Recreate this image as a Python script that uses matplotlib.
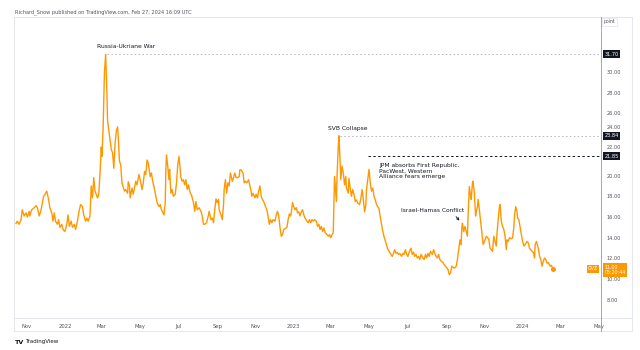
import numpy as np
import pandas as pd
import matplotlib
matplotlib.use("Agg")
import matplotlib.pyplot as plt
import matplotlib.transforms as mtransforms

# CBOE Gold Volatility Index (GVZ), daily closes
start_date = "2021-10-15"
days = [
    0, 2, 5, 8, 10, 13, 16, 18, 21, 22, 25, 29, 32, 34, 37, 40, 44, 46, 49, 52,
    54, 57, 59, 61, 63, 66, 68, 70, 73, 75, 78, 81, 83, 85, 88, 90, 93, 95, 98, 100,
    103, 106, 108, 111, 113, 115, 118, 120, 122, 124, 126, 130, 132, 134, 136, 137, 139, 141, 143, 145,
    146, 149, 152, 154, 156, 158, 160, 162, 163, 165, 167, 169, 171, 173, 175, 178, 179, 181, 182, 185,
    187, 189, 191, 193, 196, 198, 201, 203, 205, 207, 209, 211, 214, 216, 218, 221, 223, 225, 228, 230,
    232, 236, 238, 239, 240, 242, 244, 245, 247, 249, 251, 254, 256, 258, 260, 263, 265, 267, 269, 271,
    273, 275, 278, 280, 283, 285, 287, 289, 292, 295, 297, 299, 301, 304, 307, 308, 311, 313, 315, 317,
    319, 321, 323, 324, 327, 329, 331, 332, 334, 336, 338, 340, 342, 345, 347, 349, 351, 353, 356, 357,
    359, 362, 364, 366, 368, 371, 373, 375, 376, 378, 381, 383, 385, 387, 389, 391, 393, 395, 398, 400,
    402, 404, 406, 408, 410, 413, 415, 417, 419, 421, 423, 425, 427, 430, 432, 434, 436, 438, 439, 441,
    443, 445, 447, 449, 451, 453, 455, 457, 459, 461, 464, 466, 468, 470, 472, 474, 476, 479, 481, 483,
    485, 487, 489, 491, 493, 496, 498, 500, 502, 504, 506, 508, 509, 511, 512, 514, 515, 517, 518, 520,
    522, 524, 526, 527, 530, 531, 533, 535, 537, 539, 541, 543, 545, 548, 550, 552, 554, 556, 558, 559,
    561, 563, 565, 567, 569, 571, 573, 575, 577, 579, 581, 583, 585, 587, 589, 591, 593, 595, 598, 600,
    602, 604, 606, 608, 610, 612, 615, 617, 619, 621, 623, 625, 627, 630, 632, 634, 636, 638, 640, 642,
    644, 646, 649, 651, 653, 655, 657, 659, 661, 664, 666, 668, 670, 672, 674, 676, 678, 681, 683, 685,
    687, 689, 691, 693, 695, 698, 700, 702, 704, 706, 708, 710, 711, 712, 714, 716, 718, 720, 721, 723,
    725, 726, 728, 729, 731, 733, 734, 736, 737, 739, 741, 743, 745, 748, 750, 752, 754, 756, 758, 760,
    762, 764, 766, 767, 769, 771, 772, 774, 776, 778, 780, 782, 783, 785, 787, 790, 792, 794, 795, 797,
    799, 800, 802, 804, 806, 808, 810, 812, 815, 817, 819, 821, 823, 825, 827, 828, 830, 833, 835, 837,
    839, 841, 843, 845, 847, 849, 852, 854, 856,
]
gvz = [
    15.37, 15.6, 15.3, 15.75, 16.7, 16.1, 16.4, 16.0, 16.55, 16.1, 16.7, 16.9, 17.1, 16.9, 16.1, 16.7, 18.0, 18.16, 18.5, 17.7,
    16.9, 16.4, 15.6, 16.4, 15.6, 15.3, 15.75, 15.0, 15.3, 14.8, 14.6, 15.3, 16.2, 15.1, 15.6, 15.0, 15.3, 14.8, 15.6, 16.4,
    17.2, 17.0, 16.2, 15.6, 15.9, 15.6, 16.1, 19.0, 17.85, 19.8, 18.5, 17.85, 18.2, 20.25, 22.75, 21.85, 24.7, 29.9, 31.7, 28.0,
    25.3, 23.9, 22.5, 22.2, 20.7, 23.1, 24.3, 24.7, 23.8, 21.4, 21.05, 19.3, 18.9, 18.5, 18.65, 18.3, 19.4, 19.0, 17.85, 18.8,
    18.2, 18.8, 19.45, 19.1, 20.1, 19.6, 18.65, 19.3, 20.4, 20.1, 21.5, 21.2, 19.9, 20.25, 19.45, 18.65, 18.0, 17.4, 17.0, 17.2,
    16.7, 16.2, 17.4, 20.6, 22.0, 20.9, 19.6, 20.6, 18.3, 18.65, 18.0, 18.2, 19.3, 21.05, 21.85, 19.8, 19.45, 19.6, 19.1, 19.6,
    18.65, 19.1, 18.3, 18.1, 17.4, 16.55, 17.5, 16.7, 16.9, 16.55, 16.1, 15.3, 15.3, 15.45, 16.2, 16.55, 15.75, 15.9, 15.45, 16.7,
    17.75, 17.4, 17.7, 16.7, 16.2, 15.75, 17.2, 18.65, 19.6, 18.3, 19.3, 19.0, 20.25, 19.45, 19.8, 20.25, 19.8, 19.8, 19.9, 20.55,
    20.55, 20.25, 19.3, 19.45, 19.3, 19.6, 19.0, 18.5, 18.0, 18.3, 17.85, 18.2, 17.85, 18.5, 19.0, 18.0, 17.7, 17.5, 17.0, 16.7,
    16.1, 15.3, 15.75, 15.45, 15.75, 15.6, 16.2, 16.55, 16.1, 15.0, 14.15, 14.3, 14.8, 14.9, 15.0, 15.75, 16.3, 16.1, 16.4, 17.4,
    17.0, 16.7, 16.9, 16.4, 16.5, 16.1, 16.5, 16.7, 16.2, 15.9, 15.6, 15.45, 15.75, 15.45, 15.75, 15.6, 15.75, 15.6, 15.1, 15.3,
    14.8, 15.1, 14.6, 14.95, 14.5, 14.3, 14.15, 14.3, 14.0, 14.3, 14.5, 19.9, 19.1, 17.5, 19.9, 22.8, 23.84, 21.2, 19.6, 20.9,
    20.25, 19.1, 19.9, 18.8, 18.3, 19.75, 18.8, 18.0, 18.65, 18.2, 17.5, 17.65, 17.35, 17.2, 17.8, 18.65, 17.65, 16.5, 17.2, 18.65,
    19.6, 20.6, 19.3, 18.5, 18.8, 18.0, 17.65, 17.2, 17.0, 16.8, 16.0, 15.3, 14.6, 14.1, 13.7, 13.3, 12.9, 12.7, 12.4, 12.2,
    12.5, 12.85, 12.5, 12.6, 12.4, 12.5, 12.2, 12.5, 12.4, 12.85, 12.4, 12.2, 12.6, 13.0, 12.4, 12.6, 12.2, 12.4, 12.05, 12.2,
    11.9, 12.4, 12.05, 11.9, 12.4, 12.05, 12.5, 12.2, 12.7, 12.4, 12.85, 12.5, 12.2, 12.05, 12.4, 11.9, 11.75, 11.6, 11.4, 11.25,
    11.1, 10.95, 10.45, 10.6, 11.25, 11.1, 11.1, 11.25, 11.9, 12.85, 13.8, 13.3, 15.0, 15.4, 14.6, 15.1, 14.6, 14.15, 16.1, 18.95,
    18.0, 17.7, 19.3, 19.45, 18.3, 16.1, 16.55, 17.0, 17.7, 16.7, 15.6, 14.5, 13.35, 13.8, 14.15, 14.0, 13.9, 13.0, 12.85, 12.7,
    14.15, 13.65, 13.2, 14.3, 15.75, 17.0, 17.2, 15.6, 15.1, 14.8, 14.15, 12.85, 13.8, 13.65, 14.0, 13.9, 14.0, 15.0, 16.1, 17.0,
    16.5, 15.9, 15.75, 15.0, 14.3, 13.65, 13.2, 13.35, 13.65, 13.5, 13.0, 12.85, 12.7, 12.6, 12.05, 13.35, 13.65, 13.0, 12.2, 11.9,
    11.25, 11.75, 12.05, 11.9, 11.55, 11.6, 11.25, 11.35, 11.0,
]

month_ticks = ["2021-11-01", "2022-01-01", "2022-03-01", "2022-05-01", "2022-07-01",
               "2022-09-01", "2022-11-01", "2023-01-01", "2023-03-01", "2023-05-01",
               "2023-07-01", "2023-09-01", "2023-11-01", "2024-01-01", "2024-03-01",
               "2024-05-01"]
month_labels = ["Nov", "2022", "Mar", "May", "Jul", "Sep", "Nov", "2023", "Mar",
                "May", "Jul", "Sep", "Nov", "2024", "Mar", "May"]
price_ticks = [8, 10, 12, 14, 16, 18, 20, 22, 24, 26, 28, 30]

# Horizontal reference levels and the dates they are drawn from
level_values = [31.70, 23.84, 21.85]
level_starts = ["2022-03-09", "2023-03-15", "2023-04-30"]
last_value = 11.00
symbol = "GVZ"

W, H = 640, 350
ORANGE = "#ff9800"
FRAME = "#e0e3eb"
TEXT = "#131722"
AXIS_TEXT = "#50535e"

dates = pd.Timestamp(start_date) + pd.to_timedelta(days, unit="D")

fig = plt.figure(figsize=(W / 100, H / 100), dpi=100)
fig.patch.set_facecolor("white")


def fx(px):
    return px / W


def fy(py):
    return 1 - py / H


ax = fig.add_axes([fx(15), fy(318), fx(601) - fx(15), fy(18) - fy(318)])
ax.set_facecolor("white")
for s in ax.spines.values():
    s.set_visible(False)

ax.plot(dates, gvz, color=ORANGE, lw=1.0, solid_joinstyle="round", zorder=3)
ax.plot(dates[-1], gvz[-1], "o", color=ORANGE, ms=2.6, zorder=4)

x0 = pd.Timestamp(start_date) - pd.Timedelta(days=1.6)
x1 = pd.Timestamp(start_date) + pd.Timedelta(days=933)
ax.set_xlim(x0, x1)
ax.set_ylim(6.26, 35.2)

# time axis
ax.set_xticks(pd.to_datetime(month_ticks))
ax.set_xticklabels(month_labels)
ax.tick_params(axis="x", length=0, pad=4, labelsize=3.8, labelcolor=AXIS_TEXT)

# price axis on the right; labels next to a level tag are lifted clear of it
ax.yaxis.tick_right()
ax.set_yticks(price_ticks)
lifted = {22, 24}
ax.set_yticklabels(["" if v in lifted else f"{v:.2f}" for v in price_ticks])
ax.tick_params(axis="y", length=0, pad=4, labelsize=3.6, labelcolor=AXIS_TEXT)
blend = mtransforms.blended_transform_factory(ax.transAxes, ax.transData)
lift = mtransforms.ScaledTranslation(0, 7 / 100, fig.dpi_scale_trans)
for v in sorted(lifted):
    ax.text(1.0 + 4 / 586 * 1.39, v, f"{v:.2f}", transform=blend + lift,
            ha="left", va="center", fontsize=3.6, color=AXIS_TEXT, clip_on=False)

# reference levels
styles = [dict(color="#b2b5be", ls=(0, (1.5, 2.5)), lw=0.7),
          dict(color="#b2b5be", ls=(0, (1.5, 2.5)), lw=0.7),
          dict(color=TEXT, ls=(0, (2.5, 2.5)), lw=0.7)]
for val, start, st in zip(level_values, level_starts, styles):
    ax.plot([pd.Timestamp(start), x1], [val, val], zorder=2, **st)
    ax.text(1.006, val, f"{val:.2f}", transform=blend, ha="left", va="center",
            fontsize=3.6, color="white", zorder=6, clip_on=False,
            bbox=dict(boxstyle="square,pad=0.3", fc=TEXT, ec="none"))

# last price and symbol tag
ax.text(1.006, last_value + 0.42, f"{last_value:.2f}\n05:20:44", transform=blend,
        ha="left", va="top", fontsize=3.4, color="white", linespacing=1.1,
        zorder=6, clip_on=False,
        bbox=dict(boxstyle="square,pad=0.35", fc=ORANGE, ec="none"))
ax.text(0.995, last_value, symbol, transform=blend, ha="right", va="center",
        fontsize=3.4, color="white", zorder=6,
        bbox=dict(boxstyle="square,pad=0.3", fc=ORANGE, ec="none"))

# event annotations
ax.text(pd.Timestamp("2022-02-21"), 32.45, "Russia-Ukriane War", fontsize=4.3,
        color=TEXT, ha="left", va="center", zorder=5)
ax.text(pd.Timestamp("2023-02-24"), 24.55, "SVB Collapse", fontsize=4.3,
        color=TEXT, ha="left", va="center", zorder=5)
ax.text(pd.Timestamp("2023-05-17"), 21.2,
        "JPM absorbs First Republic.\nPacWest, Western\nAlliance fears emerge",
        fontsize=4.3, color=TEXT, ha="left", va="top", linespacing=1.15, zorder=5)
ax.text(pd.Timestamp("2023-06-21"), 16.6, "Israel-Hamas Conflict", fontsize=4.2,
        color=TEXT, ha="left", va="center", zorder=5)
ax.annotate("", xy=(pd.Timestamp("2023-09-25"), 15.45),
            xytext=(pd.Timestamp("2023-09-14"), 16.25),
            arrowprops=dict(arrowstyle="->", color=TEXT, lw=0.6,
                            mutation_scale=4), zorder=5)

# chart frame and panel separators
frame = dict(color=FRAME, lw=0.6, transform=fig.transFigure)
fig.add_artist(plt.Line2D([fx(14), fx(632)], [fy(17), fy(17)], **frame))
fig.add_artist(plt.Line2D([fx(14), fx(632)], [fy(331), fy(331)], **frame))
fig.add_artist(plt.Line2D([fx(14), fx(14)], [fy(17), fy(331)], **frame))
fig.add_artist(plt.Line2D([fx(632), fx(632)], [fy(17), fy(331)], **frame))
fig.add_artist(plt.Line2D([fx(14), fx(632)], [fy(318), fy(318)], **frame))
fig.add_artist(plt.Line2D([fx(601), fx(601)], [fy(17), fy(331)],
                          color="#9598a1", lw=0.6, transform=fig.transFigure))

fig.text(fx(604), fy(22), "point", fontsize=3.3, color=AXIS_TEXT, ha="left",
         va="center", bbox=dict(boxstyle="square,pad=0.4", fc="white", ec=FRAME, lw=0.5))

fig.text(fx(15), fy(12), "Richard_Snow published on TradingView.com, Feb 27, 2024 16:09 UTC",
         fontsize=3.6, color=AXIS_TEXT, ha="left", va="center")
fig.text(fx(15), fy(342), "TV", fontsize=4.6, fontweight="bold", color=TEXT,
         ha="left", va="center")
fig.text(fx(25), fy(342), "TradingView", fontsize=4.0, color=TEXT,
         ha="left", va="center")

fig.savefig("out.png", dpi=100, facecolor="white")
